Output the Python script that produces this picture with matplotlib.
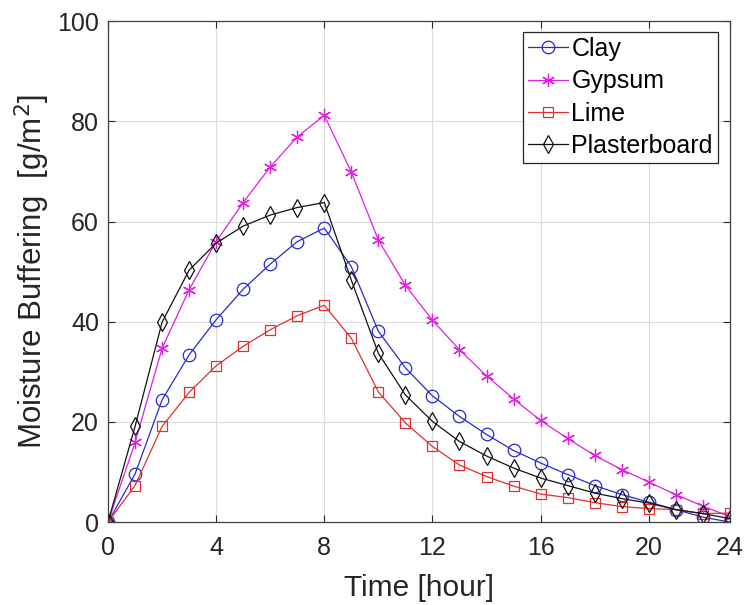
import matplotlib
matplotlib.use("Agg")
import matplotlib.pyplot as plt
import numpy as np

plt.rcParams['font.family'] = ['Liberation Sans', 'DejaVu Sans']

hours = list(range(24))
clay = [0, 9.6, 24.4, 33.4, 40.4, 46.5, 51.5, 56.0, 58.7, 51.0, 38.1, 30.8,
        25.2, 21.1, 17.5, 14.3, 11.8, 9.5, 7.3, 5.5, 4.0, 2.5, 1.0, 0.0]
gypsum = [0, 15.9, 34.7, 46.4, 56.0, 63.8, 70.9, 76.9, 81.2, 69.9, 56.3, 47.3,
          40.3, 34.4, 29.2, 24.6, 20.3, 16.7, 13.3, 10.5, 8.0, 5.5, 3.2, 1.1]
lime = [0, 7.3, 19.1, 25.9, 31.2, 35.1, 38.4, 41.2, 43.3, 36.7, 26.0, 19.8,
        15.1, 11.4, 9.1, 7.2, 5.6, 4.9, 3.9, 3.1, 2.7, 2.5, 1.7, 1.8]
plaster = [0, 19.1, 39.9, 50.3, 55.7, 59.1, 61.3, 62.8, 63.8, 48.3, 33.7, 25.4,
           20.1, 16.1, 13.2, 10.8, 8.8, 7.3, 5.8, 4.7, 3.8, 2.5, 1.7, 0.7]
series_names = ['Clay', 'Gypsum', 'Lime', 'Plasterboard']
xtick_pos = [0, 4, 8, 12, 16, 20, 23]
xtick_labels = ['0', '4', '8', '12', '16', '20', '24']
yticks = [0, 20, 40, 60, 80, 100]

fig = plt.figure(figsize=(7.47, 6.05), dpi=100)
ax = fig.add_axes([0.1446, 0.137, 0.977 - 0.1446, 0.965 - 0.137])

styles = [
    dict(color='#2a2ad0', marker='o', ms=9, mfc='none', mew=0.9),
    dict(color='#e020e0', marker=(6, 2, 0), ms=9.5, mfc='none', mew=0.9),
    dict(color='#e03030', marker='s', ms=6.8, mfc='none', mew=0.9),
    dict(color='#111111', marker='d', ms=9, mfc='none', mew=0.9),
]
for data, name, st in zip([clay, gypsum, lime, plaster], series_names, styles):
    ax.plot(hours, data, lw=0.9, label=name, **st)

ax.set_xlim(0, 23)
ax.set_ylim(0, 100)
ax.set_xticks(xtick_pos)
ax.set_xticklabels(xtick_labels)
ax.set_yticks(yticks)
ax.grid(True, color='#dcdcdc', lw=0.8)
ax.set_axisbelow(True)
ax.tick_params(direction='in', length=5, width=0.8, labelsize=18, colors='#262626',
               top=True, right=True)
ax.tick_params(axis='x', pad=10)
ax.tick_params(axis='y', pad=6.5)
for s in ax.spines.values():
    s.set_color('#404040')
    s.set_linewidth(0.9)

ax.set_xlabel('Time [hour]', fontsize=21.5, color='#262626', labelpad=10)
ax.set_ylabel('Moisture Buffering  [g/m$^2$]', fontsize=22.5, color='#262626', labelpad=4)

leg = ax.legend(loc='upper right', bbox_to_anchor=(0.9807, 0.978), fontsize=18,
                fancybox=False, framealpha=1, edgecolor='#262626',
                handlelength=1.6, handletextpad=0.15, borderpad=0.2,
                labelspacing=0.33, borderaxespad=0.0)
leg.get_frame().set_linewidth(0.9)

fig.savefig('out.png', dpi=100)
